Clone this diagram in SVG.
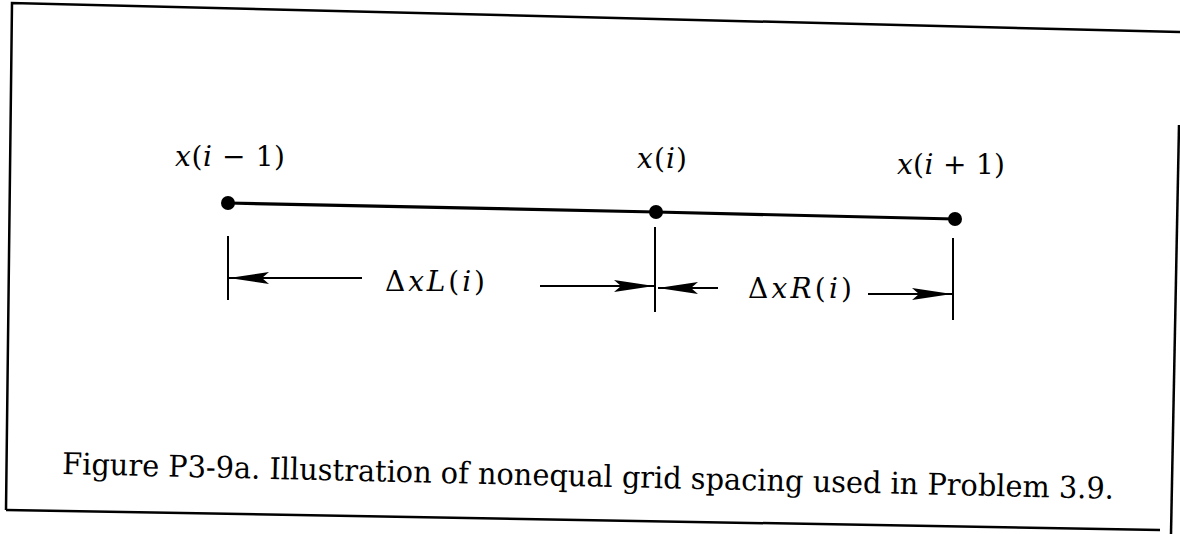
<svg xmlns="http://www.w3.org/2000/svg" width="1180" height="534" viewBox="0 0 1180 534">
<style>
.frame{fill:none;stroke:#000;stroke-width:2.5}
.ln{fill:none;stroke:#000;stroke-width:2}
.main{fill:none;stroke:#000;stroke-width:3.2}
.it{font-style:italic}
</style>
<defs>
<marker id="ah" markerUnits="userSpaceOnUse" markerWidth="44" markerHeight="16" viewBox="-42 -8 44 16" refX="0" refY="0" orient="auto">
<path d="M0,0 L-40,-6 L-33,0 L-40,6 Z" fill="#000"/>
</marker>
</defs>
<rect width="1180" height="534" fill="#fff"/>
<g id="frame">
<path class="frame" d="M6,510 L12,3 L1180,32"/>
<path class="frame" d="M6,510 L1160,530"/>
<path class="frame" d="M1179,125 L1171,534"/>
</g>
<g id="connectors">
<path class="main" d="M228,203 L656,212 L955,219"/>
<path class="ln" d="M228,236 V300"/>
<path class="ln" d="M655,227 V312"/>
<path class="ln" d="M953,238 V320"/>
<path class="ln" d="M362,278 H229" marker-end="url(#ah)"/>
<path class="ln" d="M540,286 H654" marker-end="url(#ah)"/>
<path class="ln" d="M718,288 H658" marker-end="url(#ah)"/>
<path class="ln" d="M868,294 H952" marker-end="url(#ah)"/>
</g>
<g font-family="'DejaVu Serif', 'Liberation Serif', serif" font-size="28" fill="#000">
<g id="node-xim1">
<circle cx="228" cy="203" r="7" fill="#000"/>
<text x="175" y="166" textLength="110" lengthAdjust="spacing"><tspan class="it">x</tspan>(<tspan class="it">i</tspan> − 1)</text>
</g>
<g id="node-xi">
<circle cx="656" cy="212" r="7" fill="#000"/>
<text x="637" y="168" textLength="50" lengthAdjust="spacing"><tspan class="it">x</tspan>(<tspan class="it">i</tspan>)</text>
</g>
<g id="node-xip1">
<circle cx="955" cy="219" r="7" fill="#000"/>
<text x="897" y="174" textLength="108" lengthAdjust="spacing"><tspan class="it">x</tspan>(<tspan class="it">i</tspan> + 1)</text>
</g>
<g id="label-dxl">
<text x="385" y="291" textLength="100" lengthAdjust="spacing">Δ<tspan class="it">xL</tspan>(<tspan class="it">i</tspan>)</text>
</g>
<g id="label-dxr">
<text x="748" y="298" textLength="104" lengthAdjust="spacing">Δ<tspan class="it">xR</tspan>(<tspan class="it">i</tspan>)</text>
</g>
</g>
<g id="caption">
<text font-family="'DejaVu Serif', 'Liberation Serif', serif" font-size="30" fill="#000" x="62" y="474" transform="rotate(1.35 62 474)" textLength="1052" lengthAdjust="spacingAndGlyphs">Figure P3-9a. Illustration of nonequal grid spacing used in Problem 3.9.</text>
</g>
</svg>
